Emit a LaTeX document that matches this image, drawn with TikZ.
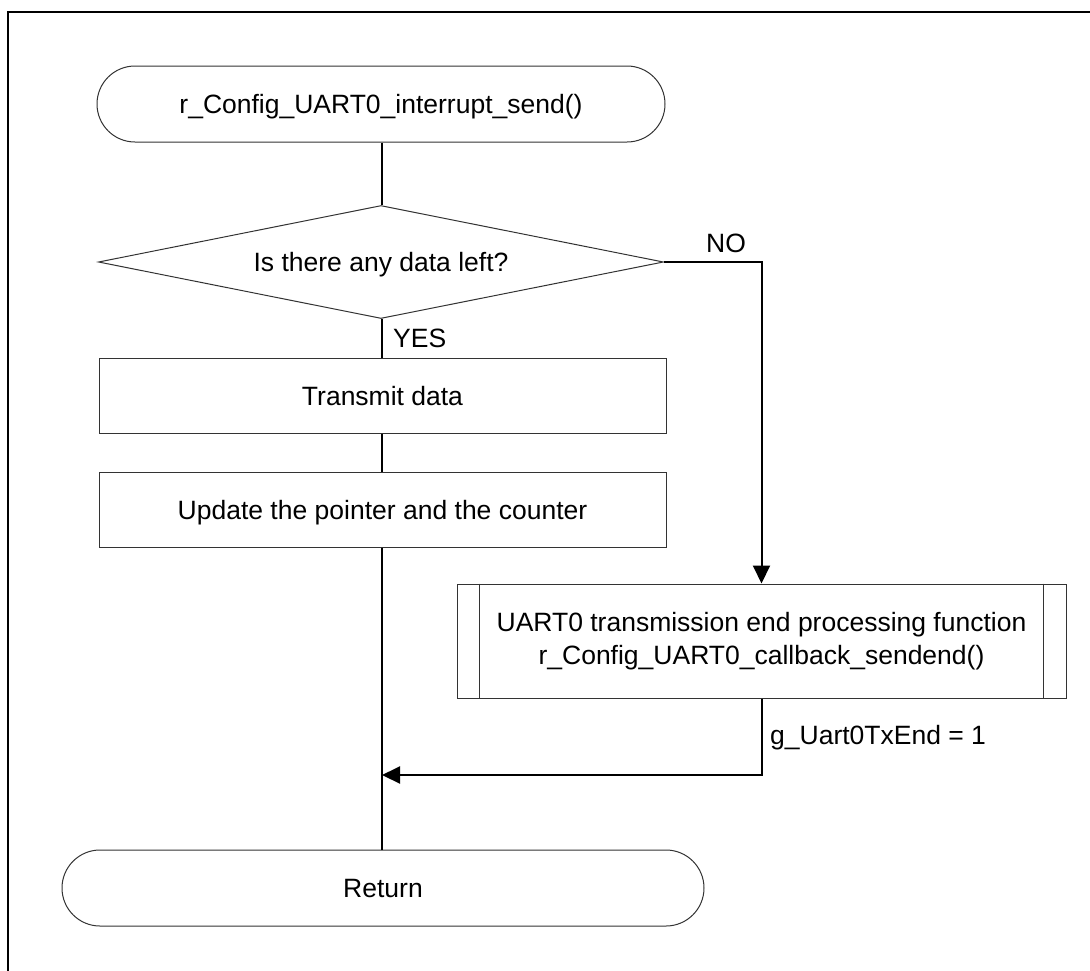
\documentclass[tikz,border=0pt]{standalone}
\usepackage{fontspec}
\setmainfont{Liberation Sans}
\usetikzlibrary{shapes.geometric,arrows.meta}
\begin{document}
\begin{tikzpicture}[x=1pt,y=-1pt,
  every node/.style={font=\fontsize{26.5}{33}\selectfont, text=black},
  shapeline/.style={draw=black!80, line width=1pt},
  terminal/.style={shapeline, rectangle, rounded corners=38pt, minimum width=#1, minimum height=76pt, inner sep=0pt, text height=19pt, text depth=0pt},
  procbox/.style={shapeline, rectangle, minimum width=567pt, minimum height=75pt, inner sep=0pt, text height=19pt, text depth=0pt},
  decision/.style={shapeline, diamond, aspect=5, minimum width=565pt, minimum height=113pt, inner sep=0pt, text height=19pt, text depth=0pt},
  subbox/.style={shapeline, rectangle, minimum width=609pt, minimum height=114pt, inner sep=0pt, align=center},
  flow/.style={draw=black, line width=2pt},
  flowarrow/.style={flow, -{Triangle[length=18pt,width=17pt]}},
  lbl/.style={anchor=base west, inner sep=0pt},
  frameline/.style={draw=black, line width=2.2pt}
]
\useasboundingbox (0,0) rectangle (1090,970);
\draw[frameline] (8,975) -- (8,12) -- (1095,12);

\node[terminal=568pt] (start) at (381,104) {r\_Config\_UART0\_interrupt\_send()};
\node[decision] (dec) at (381,262) {Is there any data left?};
\node[procbox] (tx) at (382.5,395.5) {Transmit data};
\node[procbox] (upd) at (382.5,509.5) {Update the pointer and the counter};
\node[subbox] (sub) at (761.5,641) {UART0 transmission end processing function\\r\_Config\_UART0\_callback\_sendend()};
\draw[shapeline] ([xshift=23pt]sub.north west) -- ([xshift=23pt]sub.south west);
\draw[shapeline] ([xshift=-23pt]sub.north east) -- ([xshift=-23pt]sub.south east);
\node[terminal=642pt] (ret) at (383,888) {Return};

\coordinate (noturn) at (761.5,262);
\coordinate (back) at (761.5,775);
\coordinate (join) at (382,775);

\draw[flow] (start.south -| 382,0) -- (dec.north -| 382,0);
\draw[flow] (dec.south -| 382,0) -- (tx.north -| 382,0);
\draw[flow] (tx.south -| 382,0) -- (upd.north -| 382,0);
\draw[flow] (upd.south -| 382,0) -- (ret.north -| 382,0);
\draw[flowarrow] (dec.east) -- (noturn) -- (sub.north);
\draw[flowarrow] (sub.south) -- (back) -- (join);

\node[lbl] (nolbl) at (706,252) {NO};
\node[lbl] (yeslbl) at (393,347) {YES};
\node[lbl] (endlbl) at (770,744) {g\_Uart0TxEnd = 1};
\end{tikzpicture}
\end{document}
